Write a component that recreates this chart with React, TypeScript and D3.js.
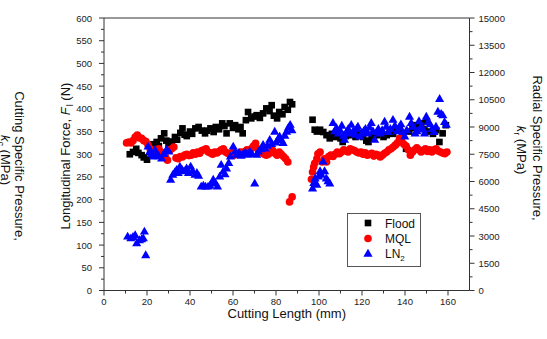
import React from "react";
import * as d3 from "d3";

// ---- data (cutting length mm, longitudinal force N) ----
const floodA: [number, number][] = [
  [12,300],[13.5,305],[15,312],[16,303],[17.5,298],[18.5,293],[20,288],[21.5,305],[23,322],[24.5,327],
  [25.5,318],[26.5,335],[28,346],[29,330],[30,322],[31.5,328],[33,338],[34,332],[35.5,347],[36.5,357],
  [37.5,343],[38.5,340],[40,350],[41,345],[42.5,357],[44,360],[45.5,352],[47,346],[48,352],[49.5,357],
  [51,349],[52,360],[53.5,355],[55,368],[56,362],[57,346],[58.5,368],[60,358],[61,364],[62.5,355],
  [63.5,360],[64.5,346],[66,375],[67,393],[68.5,379],[70,383],[71,386],[72.5,380],[74,390],[75.5,401],
  [77,395],[78,408],[79,385],[80.5,379],[81.5,393],[83,388],[84,404],[85.5,398],[86.5,415],[87.5,410]
];
const floodB: [number, number][] = [
  [97,376],[98,354],[99,350],[100.5,354],[102,349],[103.5,342],[105,335],[106,345],[107.5,338],[109,340],
  [110,335],[111,327],[112.5,340],[114,345],[115.5,342],[117,338],[118,346],[119.5,342],[120.5,338],[122,330],
  [123,327],[124.5,340],[125.5,335],[127,342],[128.5,348],[130,338],[131.5,342],[133,350],[134.5,345],[136,352],
  [137.5,353],[139,345],[140.5,312],[142,350],[143.5,358],[145,364],[146.5,360],[147.5,368],[149,355],[150,371],
  [151.5,350],[153,345],[154.5,353],[156,327],[157.5,346],[159,364]
];
const mqlA: [number, number][] = [
  [10.5,325],[11.5,327],[12.5,325],[13.5,330],[14.5,338],[15.5,342],[16.5,336],[17.5,335],[18.5,330],[19.5,328],
  [20.5,320],[21.5,312],[22.5,308],[23.5,305],[24.5,310],[25.5,312],[26.5,305],[27.5,301],[28.5,295],[29.5,287],
  [30.5,309],[31.5,312],[32.5,316],[33.5,292],[34.5,290],[35.5,295],[36.5,294],[37.5,298],[38.5,300],[39.5,297],
  [40.5,298],[41.5,303],[42.5,300],[43.5,305],[44.5,302],[45.5,308],[46.5,310],[47.5,312],[48.5,305],[49.5,303],
  [50.5,300],[51.5,305],[52.5,303],[53.5,306],[54.5,310],[55.5,312],[56.5,305],[57.5,302],[58.5,300],[59.5,303],
  [60.5,298],[61.5,300],[62.5,302],[63.5,305],[64.5,303],[65.5,306],[66.5,310],[67.5,308],[68.5,312],[69.5,318],
  [70.5,324],[71.5,312],[72.5,308],[73.5,303],[74.5,300],[75.5,298],[76.5,300],[77.5,305],[78.5,308],[79.5,302],
  [80.5,298],[81.5,305],[82.5,300],[83.5,295],[84.5,290],[85.5,283],[86.3,195],[87.5,206]
];
const mqlB: [number, number][] = [
  [96.5,245],[97,261],[97.5,272],[98,280],[99,290],[99.5,301],[100.5,305],[101.5,283],[102.5,290],[103.5,283],
  [104.5,295],[105.5,298],[106.5,295],[107.5,300],[108.5,305],[109.5,301],[110.5,305],[111.5,310],[112.5,308],[113.5,305],
  [114.5,312],[115.5,310],[116.5,308],[117.5,305],[118.5,303],[119.5,305],[120.5,300],[121.5,303],[122.5,298],[123.5,300],
  [124.5,302],[125.5,296],[126.5,300],[127.5,298],[128.5,294],[129.5,298],[130.5,302],[131.5,305],[132.5,310],[133.5,312],
  [134.5,316],[135.5,320],[136.5,325],[137.5,335],[138.5,328],[139.5,322],[140.5,318],[141.5,310],[142.5,298],[143.5,305],
  [144.5,310],[145.5,314],[146.5,310],[147.5,305],[148.5,308],[149.5,312],[150.5,306],[151.5,310],[152.5,305],[153.5,310],
  [154.5,312],[155.5,307],[156.5,305],[157.5,303],[158.5,301],[159.5,305]
];
const ln2A: [number, number][] = [
  [11,118],[12.5,114],[13.5,117],[14.5,121],[15.2,103],[16.5,110],[17.5,112],[18.3,114],[18.8,129],[19.4,77],
  [20.5,316],[21.3,305],[22,300],[22.9,294],[23.7,309],[24.5,300],[25.5,295],[26.8,290],[27.8,300],[29,309],
  [30.2,305],[31,243],[32,254],[33,260],[33.8,265],[34.5,258],[35.3,272],[36.3,265],[37.3,262],[38.4,268],
  [39.3,258],[40.3,272],[41.2,262],[42.3,254],[43.2,258],[44,252],[45.2,228],[46.2,230],[47.2,228],[48.4,228],
  [49.3,230],[50.3,235],[50.8,243],[51.8,236],[52.8,228],[53.8,250],[54.5,276],[55.4,261],[56.3,255],[57,268],
  [58,280],[58.8,294],[60.1,316],[61,305],[61.8,298],[62.8,302],[63.8,296],[64.8,300],[65.8,303],[66.8,298],
  [67.8,305],[68.8,300],[70.1,235],[71,298],[71.8,305],[73,310],[74,320],[75,312],[76,318],[77.1,331],
  [78,322],[79.4,349],[80,325],[81,333],[81.7,338],[82.5,330],[83.3,324],[84.1,340],[84.9,349],[85.8,358],
  [86.6,364],[87.4,352]
];
const ln2B: [number, number][] = [
  [97,224],[97.6,236],[98.2,246],[99,232],[99.8,250],[100.5,262],[101.1,254],[101.9,283],[102.6,262],[103.4,246],
  [104.2,240],[105,235],[106.5,368],[107.3,350],[108.1,357],[109,345],[109.8,352],[110.6,362],[111.4,340],[111.9,331],
  [112.8,348],[113.6,355],[114.3,345],[115,364],[115.9,350],[116.8,342],[117.5,355],[118.1,360],[119,338],[119.8,345],
  [120.8,350],[121.6,355],[122.6,345],[123.5,358],[124.3,368],[125.1,350],[125.9,331],[126.8,348],[127.6,355],[128.5,345],
  [129.4,352],[130.5,371],[131.3,360],[132.2,348],[133.2,355],[134.4,375],[135.3,362],[136.3,350],[137.2,358],[138.1,365],
  [139,348],[139.9,338],[140.8,352],[142.1,382],[142.9,368],[143.8,360],[144.7,345],[145.6,350],[146.5,372],[147.4,360],
  [148.3,355],[149.1,345],[149.9,382],[150.8,370],[151.7,365],[152.6,355],[153.5,348],[154.4,360],[155.3,393],[156.1,421],
  [156.8,388],[157.6,385],[158.4,370],[159.2,364]
];

const xTicks = [0, 20, 40, 60, 80, 100, 120, 140, 160];
const yTicks = [0, 50, 100, 150, 200, 250, 300, 350, 400, 450, 500, 550, 600];
const yRTicks = [0, 1500, 3000, 4500, 6000, 7500, 9000, 10500, 12000, 13500, 15000];

const FONT = "Arial, 'Liberation Sans', sans-serif";

export default function App() {
  const W = 547, H = 339;
  const L = 104, R = 469.5, T = 18, B = 290.5;
  const x = d3.scaleLinear().domain([0, 170]).range([L, R]);
  const y = d3.scaleLinear().domain([0, 600]).range([B, T]);
  const yR = d3.scaleLinear().domain([0, 15000]).range([B, T]);

  const sq = d3.symbol(d3.symbolSquare, 44)()!;
  const ci = d3.symbol(d3.symbolCircle, 46)()!;
  const tr = d3.symbol(d3.symbolTriangle, 36)()!;

  const series = [
    { data: [...floodA, ...floodB], path: sq, color: "#000000" },
    { data: [...mqlA, ...mqlB], path: ci, color: "#ff0000" },
    { data: [...ln2A, ...ln2B], path: tr, color: "#0000ff" },
  ];

  const xMinor = d3.range(10, 170, 20);
  const yMinor = d3.range(25, 600, 50);
  const yRMinor = d3.range(750, 15000, 1500);

  return (
    <svg width={W} height={H} style={{ position: "absolute", left: 0, top: 0, background: "#fff" }} fontFamily={FONT}>
      <rect x={0} y={0} width={W} height={H} fill="#fff" />
      {/* markers */}
      {series.map((s, i) => (
        <g key={i} fill={s.color}>
          {s.data.map((d, j) => (
            <path key={j} d={s.path} transform={`translate(${x(d[0])},${y(d[1])})`} />
          ))}
        </g>
      ))}
      {/* frame */}
      <g stroke="#333" strokeWidth={1} fill="none">
        <line x1={L} x2={R} y1={T} y2={T} />
        <line x1={L} x2={R} y1={B} y2={B} />
        <line x1={L} x2={L} y1={T} y2={B} />
        <line x1={R} x2={R} y1={T} y2={B} />
        {xTicks.map((t) => <line key={"xt" + t} x1={x(t)} x2={x(t)} y1={B} y2={B + 5} />)}
        {xMinor.map((t) => <line key={"xm" + t} x1={x(t)} x2={x(t)} y1={B} y2={B + 3} />)}
        {yTicks.map((t) => <line key={"yt" + t} x1={L - 5} x2={L} y1={y(t)} y2={y(t)} />)}
        {yMinor.map((t) => <line key={"ym" + t} x1={L - 3} x2={L} y1={y(t)} y2={y(t)} />)}
        {yRTicks.map((t) => <line key={"rt" + t} x1={R} x2={R + 5} y1={yR(t)} y2={yR(t)} />)}
        {yRMinor.map((t) => <line key={"rm" + t} x1={R} x2={R + 3} y1={yR(t)} y2={yR(t)} />)}
      </g>
      {/* tick labels */}
      <g fontSize={9.5} fill="#222">
        {xTicks.map((t) => (
          <text key={"xl" + t} x={x(t)} y={B + 14} textAnchor="middle">{t}</text>
        ))}
        {yTicks.map((t) => (
          <text key={"yl" + t} x={L - 12} y={y(t) + 3.5} textAnchor="end">{t}</text>
        ))}
        {yRTicks.map((t) => (
          <text key={"rl" + t} x={R + 9} y={yR(t) + 3.5} textAnchor="start">{t}</text>
        ))}
      </g>
      {/* axis titles */}
      <g fontSize={13} fill="#111">
        <text x={(L + R) / 2} y={318} textAnchor="middle">Cutting Length (mm)</text>
        <text transform={`translate(70,156) rotate(-90)`} textAnchor="middle">
          Longitudinal Force, <tspan fontStyle="italic">F</tspan>
          <tspan fontSize={9} dy={3} dx={1}>l</tspan>
          <tspan dy={-3}> (N)</tspan>
        </text>
        <text transform={`translate(15,166) rotate(90)`} textAnchor="middle">Cutting Specific Pressure,</text>
        <text transform={`translate(1,160) rotate(90)`} textAnchor="middle">
          <tspan fontStyle="italic">k</tspan>
          <tspan fontSize={9} dy={3}>c</tspan>
          <tspan dy={-3}> (MPa)</tspan>
        </text>
        <text transform={`translate(533,148) rotate(90)`} textAnchor="middle">Radial Specific Pressure,</text>
        <text transform={`translate(517,150) rotate(90)`} textAnchor="middle">
          <tspan fontStyle="italic">k</tspan>
          <tspan fontSize={9} dy={3}>r</tspan>
          <tspan dy={-3}> (MPa)</tspan>
        </text>
      </g>
      {/* legend */}
      <g>
        <rect x={347.5} y={213.5} width={73} height={53} fill="#fff" stroke="#555" strokeWidth={1} />
        <path d={sq} transform="translate(368,223)" fill="#000" />
        <path d={ci} transform="translate(368,238.5)" fill="#ff0000" />
        <path d={tr} transform="translate(368,254)" fill="#0000ff" />
        <g fontSize={12} fill="#111">
          <text x={385} y={227.5}>Flood</text>
          <text x={385} y={243}>MQL</text>
          <text x={385} y={258}>LN<tspan fontSize={8} dy={3}>2</tspan></text>
        </g>
      </g>
    </svg>
  );
}
